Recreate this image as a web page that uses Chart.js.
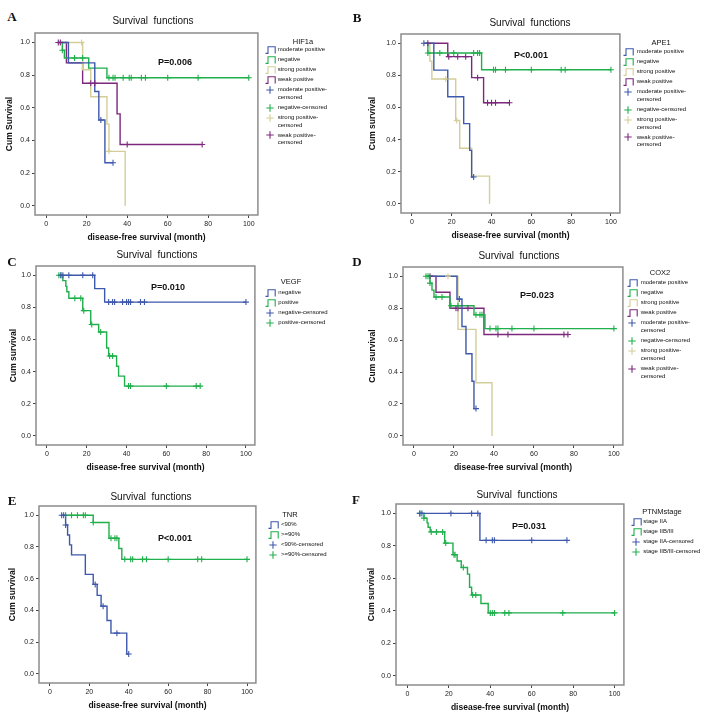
<!DOCTYPE html>
<html>
<head>
<meta charset="utf-8">
<script src="https://cdn.jsdelivr.net/npm/chart.js@4.4.1/dist/chart.umd.min.js"></script>
<style>
body { margin: 0; background: #fff; }
#fig { position: relative; width: 708px; height: 718px; overflow: hidden; font-family: "Liberation Sans", Arial, sans-serif; color: #111; }
.t { position: absolute; white-space: pre; transform: translate(-50%, -50%); line-height: 1; }
.letter { font-family: "Liberation Serif", "Times New Roman", serif; font-weight: bold; font-size: 13px; }
.ttl { font-size: 10px; }
.pv { font-size: 9px; font-weight: bold; }
.lgt { font-size: 7.5px; }
.lg { position: absolute; font-family: "Liberation Sans Narrow", "Liberation Sans", sans-serif; font-size: 6px; color: #111; }
.row { position: relative; line-height: 7.7px; margin-bottom: 2.3px; }
.row svg { position: absolute; left: 0; top: -0.2px; }
canvas { position: absolute; }
</style>
</head>
<body>
<div id="fig"></div>
<script>
// axis ticks
const monthTicks = [0, 20, 40, 60, 80, 100];
const survTicks = [0, 0.2, 0.4, 0.6, 0.8, 1.0];

// A - HIF1a (t = event times, s = survival after each step, c = censored times)
const hifModT = [6, 11, 24, 26, 29];
const hifModS = [1, 0.875, 0.70, 0.525, 0.263];
const hifModC = [27, 33];
const hifNegT = [7.5, 8, 9, 21, 30];
const hifNegS = [1, 0.952, 0.905, 0.843, 0.784];
const hifNegC = [8, 14, 18, 31, 33, 34, 38, 41, 42, 47, 49, 60, 75, 100];
const hifStrT = [9, 18, 22, 30, 31, 39];
const hifStrS = [1, 0.833, 0.667, 0.5, 0.333, 0];
const hifStrC = [17.5, 31];
const hifWeakT = [5.5, 10, 18, 35, 36.5];
const hifWeakS = [1, 0.875, 0.75, 0.5625, 0.375];
const hifWeakC = [6, 7, 22, 24, 40, 77];

// B - APE1
const apeModT = [6, 11, 18, 26, 29, 30];
const apeModS = [1, 0.833, 0.667, 0.5, 0.333, 0.167];
const apeModC = [6, 31];
const apeNegT = [7, 8, 35];
const apeNegS = [1, 0.94, 0.835];
const apeNegC = [8, 14, 21, 31, 33, 34, 41, 42, 47, 60, 75, 77, 100];
const apeStrT = [8, 9, 10, 22, 24, 30, 39];
const apeStrS = [1, 0.889, 0.778, 0.519, 0.346, 0.173, 0];
const apeStrC = [17, 22.5];
const apeWeakT = [8, 18, 30, 36];
const apeWeakS = [1, 0.917, 0.786, 0.63];
const apeWeakC = [8, 18.5, 23, 27, 33, 38, 40, 42, 49];

// C - VEGF
const vegfNegT = [7, 24, 29];
const vegfNegS = [1, 0.917, 0.833];
const vegfNegC = [7, 8, 11, 18, 23, 31, 33, 34, 38, 40, 41, 42, 47, 49, 100];
const vegfPosT = [6, 8, 9.5, 10, 11, 18, 22, 26, 30, 31, 35, 36, 39];
const vegfPosS = [1, 0.967, 0.931, 0.898, 0.857, 0.78, 0.694, 0.647, 0.547, 0.497, 0.434, 0.372, 0.31];
const vegfPosC = [6, 7, 14, 17, 18.5, 22.5, 27, 31.5, 33, 41, 42, 60, 75, 77];

// D - COX2
const coxModT = [7, 21.5, 24, 26, 29, 30];
const coxModS = [1, 0.857, 0.685, 0.515, 0.342, 0.171];
const coxModC = [22.7, 31];
const coxNegT = [6, 8, 9, 10, 18, 30, 35.5];
const coxNegS = [1, 0.957, 0.913, 0.87, 0.815, 0.759, 0.672];
const coxNegC = [6, 7, 8, 11, 14, 18.5, 22, 31, 33, 34, 38, 41, 42, 49, 60, 100];
const coxStrT = [10, 22, 31, 39];
const coxStrS = [1, 0.667, 0.333, 0];
const coxStrC = [17];
const coxWeakT = [7, 11, 18, 35];
const coxWeakS = [1, 0.9, 0.8, 0.635];
const coxWeakC = [8, 21, 22, 27, 42, 47, 75, 77];

// E - TNR
const tnrLowT = [6, 8, 9, 10, 11, 18, 22, 24, 26, 29, 31, 39];
const tnrLowS = [1, 0.938, 0.875, 0.813, 0.75, 0.627, 0.564, 0.495, 0.427, 0.337, 0.257, 0.126];
const tnrLowC = [6, 7, 8, 23, 27, 34, 40];
const tnrHighT = [8, 22, 30, 35, 36.5];
const tnrHighS = [1, 0.954, 0.855, 0.79, 0.722];
const tnrHighC = [8, 11, 14, 17, 18, 22, 31, 33, 34, 38, 41, 42, 47, 49, 60, 75, 77, 100];

// F - PTNMstage
const stIIAT = [6, 35];
const stIIAS = [1, 0.834];
const stIIAC = [6, 7, 21, 31, 34, 38, 41, 42, 60, 77];
const stIIBT = [7, 8, 9.5, 10, 11, 18, 22, 24, 26, 29, 30, 31, 35.5, 39];
const stIIBS = [1, 0.971, 0.942, 0.915, 0.886, 0.817, 0.746, 0.707, 0.667, 0.626, 0.545, 0.497, 0.445, 0.387];
const stIIBC = [6, 8, 11.5, 14, 17, 18.5, 22.5, 23, 27, 31.5, 33, 40, 41, 42, 47, 49, 75, 100];

const BLUE = '#3E58AC', GREEN = '#1FAF4B', TAN = '#D3CE97', PURPLE = '#7C287D';

const panels = [
  { letter: 'A', lpos: [12, 16], box: [35, 33, 259, 215], yw: 30, tpos: [153, 21], ytitle: 'Cum Survival',
    p: 'P=0.006', ppos: [175, 62], lgTitle: 'HIF1a', lgtPos: [303, 42], lg: [265, 277.7, 50], wrap: 55,
    groups: [
      { name: 'moderate positive', t: hifModT, s: hifModS, c: hifModC, color: BLUE },
      { name: 'negative', t: hifNegT, s: hifNegS, c: hifNegC, color: GREEN },
      { name: 'strong positive', t: hifStrT, s: hifStrS, c: hifStrC, color: TAN },
      { name: 'weak positive', t: hifWeakT, s: hifWeakS, c: hifWeakC, color: PURPLE }] },
  { letter: 'B', lpos: [357, 17], box: [401, 34, 621, 213], yw: 33, tpos: [530, 23], ytitle: 'Cum survival',
    p: 'P<0.001', ppos: [531, 55], lgTitle: 'APE1', lgtPos: [661, 43], lg: [623.3, 636.7, 52], wrap: 55,
    groups: [
      { name: 'moderate positive', t: apeModT, s: apeModS, c: apeModC, color: BLUE },
      { name: 'negative', t: apeNegT, s: apeNegS, c: apeNegC, color: GREEN },
      { name: 'strong positive', t: apeStrT, s: apeStrS, c: apeStrC, color: TAN },
      { name: 'weak positive', t: apeWeakT, s: apeWeakS, c: apeWeakC, color: PURPLE }] },
  { letter: 'C', lpos: [12, 261], box: [36, 266, 256, 445], yw: 27, tpos: [157, 255], ytitle: 'Cum survival',
    p: 'P=0.010', ppos: [168, 287], lgTitle: 'VEGF', lgtPos: [291, 282], lg: [265, 278.3, 293.3], wrap: 90,
    groups: [
      { name: 'negative', t: vegfNegT, s: vegfNegS, c: vegfNegC, color: BLUE },
      { name: 'positive', t: vegfPosT, s: vegfPosS, c: vegfPosC, color: GREEN }] },
  { letter: 'D', lpos: [357, 261], box: [403, 267, 624, 445], yw: 35, tpos: [519, 256], ytitle: 'Cum survival',
    p: 'P=0.023', ppos: [537, 295], lgTitle: 'COX2', lgtPos: [660, 273], lg: [627.3, 640.7, 283.3], wrap: 55,
    groups: [
      { name: 'moderate positive', t: coxModT, s: coxModS, c: coxModC, color: BLUE },
      { name: 'negative', t: coxNegT, s: coxNegS, c: coxNegC, color: GREEN },
      { name: 'strong positive', t: coxStrT, s: coxStrS, c: coxStrC, color: TAN },
      { name: 'weak positive', t: coxWeakT, s: coxWeakS, c: coxWeakC, color: PURPLE }] },
  { letter: 'E', lpos: [12, 500], box: [39, 506, 257, 683], yw: 31, tpos: [151, 497], ytitle: 'Cum survival',
    p: 'P<0.001', ppos: [175, 538], lgTitle: 'TNR', lgtPos: [290, 515], lg: [268.3, 281, 524.7], wrap: 90,
    groups: [
      { name: '<90%', t: tnrLowT, s: tnrLowS, c: tnrLowC, color: BLUE },
      { name: '>=90%', t: tnrHighT, s: tnrHighS, c: tnrHighC, color: GREEN }] },
  { letter: 'F', lpos: [356, 499], box: [396, 504, 625, 685], yw: 29, tpos: [517, 495], ytitle: 'Cum survival',
    p: 'P=0.031', ppos: [529, 526], lgTitle: 'PTNMstage', lgtPos: [662, 512], lg: [630.7, 643.3, 521.7], wrap: 90,
    groups: [
      { name: 'stage IIA', t: stIIAT, s: stIIAS, c: stIIAC, color: BLUE },
      { name: 'stage IIB/III', t: stIIBT, s: stIIBS, c: stIIBC, color: GREEN }] }
];

const fig = document.getElementById('fig');

function survAt(t, s, time) {
  let v = s[0];
  for (let i = 0; i < t.length; i++) if (t[i] <= time) v = s[i];
  return v;
}

function addText(cls, text, x, y) {
  const d = document.createElement('div');
  d.className = 't ' + cls;
  d.textContent = text;
  d.style.left = x + 'px';
  d.style.top = y + 'px';
  fig.appendChild(d);
}

function stepIcon(color) {
  return '<svg width="11" height="8" viewBox="0 0 11 8"><path d="M0.5 7.4 H3 V0.7 H10.2 V7.4" fill="none" stroke="' + color + '" stroke-width="1.1"/></svg>';
}
function crossIcon(color) {
  return '<svg width="11" height="8" viewBox="0 0 11 8"><path d="M5 0.3 V7.7 M1.3 4 H8.7" fill="none" stroke="' + color + '" stroke-width="1.1"/></svg>';
}

const framePlugin = {
  id: 'frame',
  afterDatasetsDraw(chart) {
    const a = chart.chartArea, ctx = chart.ctx;
    ctx.save();
    ctx.strokeStyle = '#8c8c8c';
    ctx.lineWidth = 1.5;
    ctx.strokeRect(a.left, a.top, a.right - a.left, a.bottom - a.top);
    ctx.restore();
  }
};

const PT = 8, PR = 4, XH = 28;

panels.forEach(pn => {
  const [L, T, R, B] = pn.box;
  const cv = document.createElement('canvas');
  const w = pn.yw + (R - L) + PR, h = PT + (B - T) + XH;
  cv.width = w; cv.height = h;
  cv.style.left = (L - pn.yw) + 'px';
  cv.style.top = (T - PT) + 'px';
  cv.style.width = w + 'px'; cv.style.height = h + 'px';
  fig.appendChild(cv);

  const censorSets = pn.groups.map(g => ({
    type: 'scatter',
    label: g.name + '-censored',
    data: g.c.map(x => ({ x: x, y: survAt(g.t, g.s, x) })),
    pointStyle: 'cross', pointRadius: 3, borderWidth: 1.1,
    borderColor: g.color, backgroundColor: g.color
  }));
  const lineSets = pn.groups.map(g => {
    const pts = g.t.map((x, i) => ({ x: x, y: g.s[i] }));
    const lastC = Math.max(...g.c);
    if (lastC > g.t[g.t.length - 1]) pts.push({ x: lastC, y: g.s[g.s.length - 1] });
    return { type: 'line', label: g.name, data: pts, stepped: true, borderColor: g.color,
      borderWidth: 1.4, pointRadius: 0, fill: false };
  });

  new Chart(cv, {
    type: 'line',
    data: { datasets: censorSets.concat(lineSets) },
    options: {
      responsive: false, animation: false, events: [],
      layout: { padding: { top: PT, right: PR, bottom: 0, left: 0 } },
      plugins: { legend: { display: false }, tooltip: { enabled: false } },
      scales: {
        x: {
          type: 'linear', min: -5.5, max: 104.5,
          afterBuildTicks: s => { s.ticks = monthTicks.map(v => ({ value: v })); },
          afterFit: s => { s.height = XH; },
          grid: { drawOnChartArea: false, tickLength: 3, color: '#444' },
          border: { display: false },
          ticks: { font: { size: 7 }, color: '#222', padding: 2, maxRotation: 0 },
          title: { display: true, text: 'disease-free survival (month)', font: { size: 8.5, weight: 'bold' }, color: '#111', padding: 0 }
        },
        y: {
          type: 'linear', min: -0.057, max: 1.058,
          afterBuildTicks: s => { s.ticks = survTicks.map(v => ({ value: v })); },
          afterFit: s => { s.width = pn.yw; },
          grid: { drawOnChartArea: false, tickLength: 3, color: '#444' },
          border: { display: false },
          ticks: { font: { size: 7 }, color: '#222', padding: 2, callback: v => v.toFixed(1) },
          title: { display: true, text: pn.ytitle, font: { size: 8.5, weight: 'bold' }, color: '#111', padding: 0 }
        }
      }
    },
    plugins: [framePlugin]
  });

  addText('letter', pn.letter, pn.lpos[0], pn.lpos[1]);
  addText('ttl', 'Survival  functions', pn.tpos[0], pn.tpos[1]);
  addText('pv', pn.p, pn.ppos[0], pn.ppos[1]);
  addText('lgt', pn.lgTitle, pn.lgtPos[0], pn.lgtPos[1]);

  const [ix, tx, y0] = pn.lg;
  const lg = document.createElement('div');
  lg.className = 'lg';
  lg.style.left = ix + 'px';
  lg.style.top = (y0 - 3.85) + 'px';
  lg.style.width = (tx - ix + pn.wrap) + 'px';
  const rows = pn.groups.map(g => [g.name, stepIcon(g.color)])
    .concat(pn.groups.map(g => [g.name + '-censored', crossIcon(g.color)]));
  rows.forEach(([label, icon]) => {
    const r = document.createElement('div');
    r.className = 'row';
    r.style.paddingLeft = (tx - ix) + 'px';
    r.innerHTML = icon;
    r.appendChild(document.createTextNode(label));
    lg.appendChild(r);
  });
  fig.appendChild(lg);
});
</script>
</body>
</html>
